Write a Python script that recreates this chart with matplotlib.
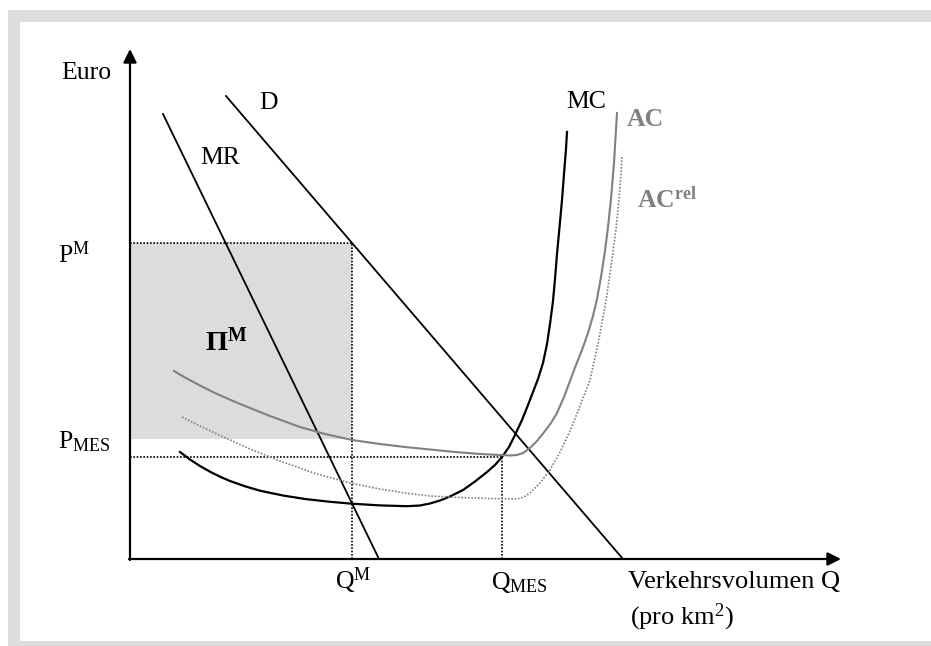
import matplotlib
matplotlib.use('Agg')
import matplotlib.pyplot as plt
from matplotlib.patches import Rectangle

plt.rcParams['font.family'] = ['Liberation Serif', 'DejaVu Serif']
plt.rcParams['mathtext.fontset'] = 'custom'
plt.rcParams['mathtext.rm'] = 'Liberation Serif'
plt.rcParams['mathtext.it'] = 'Liberation Serif:italic'
plt.rcParams['mathtext.bf'] = 'Liberation Serif:bold'

# Kurven (Q, Euro), Ursprung im Achsenschnittpunkt
mr_q = [33, 249]
mr_p = [445, 0]
d_q = [96, 493]
d_p = [463, 0]

mc_q = [50, 60, 70, 80, 90, 100, 115, 130, 153, 175, 200, 222, 250, 277,
        290, 300, 310, 320, 333, 345, 357, 365, 372, 379, 385, 392, 398,
        403, 408, 413, 417, 420, 423, 425, 427, 430, 432, 434, 436, 437]
mc_p = [107, 99.5, 93, 87.3, 82.3, 78, 72.7, 68.3, 63.5, 60, 57.2, 55.3,
        53.6, 52.8, 53.5, 55.5, 58.5, 62.5, 69, 77.5, 87, 94, 102, 112, 124,
        139, 154, 167, 180, 196, 215, 235, 258, 280, 305, 337, 359, 385, 410,
        427]

ac_q = [44, 55, 70, 85, 103, 120, 140, 170, 195, 222, 250, 275, 300, 325,
        350, 370, 380, 387, 393, 400, 407, 415, 421, 427, 434, 440, 446, 452,
        458, 463, 467, 471, 475, 478, 481, 484, 487]
ac_p = [188, 181.5, 173.5, 166, 158, 151, 143, 132, 125, 119, 115, 112,
        109.5, 107, 105, 104, 103.5, 104, 106, 111, 118, 128, 136, 146, 162,
        178, 194, 209, 226, 243, 260, 282, 308, 332, 360, 396, 446]

acrel_q = [52, 70, 90, 120, 150, 187, 220, 250, 275, 300, 330, 360, 387,
           394, 400, 410, 420, 430, 440, 450, 460, 468, 476, 482, 486, 489,
           491, 492]
acrel_p = [142, 133, 123.5, 110, 98, 85, 76, 70, 66, 63, 61.5, 60.5, 60,
           62, 66, 76, 89, 107, 128, 153, 179, 215, 258, 300, 330, 360,
           385, 402]

q_m, p_m = 222, 316
q_mes, p_mes = 372, 102
gewinn_unten = 120

fig = plt.figure(figsize=(9.31, 6.46), dpi=100)
ax = fig.add_axes([0, 0, 1, 1])
ax.set_xlim(-130, 801)
ax.set_ylim(-87, 559)
ax.axis('off')

# grauer Rahmen
grau = '#dddddd'
ax.add_patch(Rectangle((-122, -87), 12, 636, color=grau, lw=0))
ax.add_patch(Rectangle((-122, 537), 940, 12, color=grau, lw=0))
ax.add_patch(Rectangle((-122, -87), 940, 5, color=grau, lw=0))

# Gewinnfläche
ax.add_patch(Rectangle((1, gewinn_unten), q_m - 1, p_m - gewinn_unten,
                       color='#dcdcdc', lw=0))

# Achsen mit Pfeilen
ax.annotate('', xy=(0, 510), xytext=(0, -1),
            arrowprops=dict(arrowstyle='-|>', color='black', lw=1.6,
                            mutation_scale=20, shrinkA=0, shrinkB=0))
ax.annotate('', xy=(711, 0), xytext=(-1, 0),
            arrowprops=dict(arrowstyle='-|>', color='black', lw=1.6,
                            mutation_scale=20, shrinkA=0, shrinkB=0))

# Hilfslinien
dot = (0, (1, 1))
ax.plot([0, q_m], [p_m, p_m], color='black', lw=1.2, ls=dot)
ax.plot([q_m, q_m], [0, p_m], color='black', lw=1.2, ls=dot)
ax.plot([0, q_mes], [p_mes, p_mes], color='black', lw=1.2, ls=dot)
ax.plot([q_mes, q_mes], [0, p_mes], color='black', lw=1.2, ls=dot)

# Kurven
ax.plot(mr_q, mr_p, color='black', lw=1.3)
ax.plot(d_q, d_p, color='black', lw=1.3)
ax.plot(mc_q, mc_p, color='black', lw=1.6, solid_joinstyle='round')
ax.plot(ac_q, ac_p, color='#808080', lw=1.5, solid_joinstyle='round')
ax.plot(acrel_q, acrel_p, color='#808080', lw=1.2, ls=dot)

# Beschriftungen
fs = 18.5
ax.text(-44, 486, 'Euro', fontsize=fs, ha='center', va='center')
ax.text(139, 456, 'D', fontsize=fs, ha='center', va='center')
ax.text(90, 401, 'MR', fontsize=fs, ha='center', va='center')
ax.text(436, 457, 'MC', fontsize=fs, ha='left', va='center')
ax.text(497, 439, 'AC', fontsize=fs, ha='left', va='center',
        color='#808080', fontweight='bold')
ax.text(507, 359, r'AC$^{\mathbf{rel}}$', fontsize=fs, ha='left', va='center',
        color='#808080', fontweight='bold')
ax.text(75, 208, r'$\mathbf{\Pi}^{\mathbf{M}}$', fontsize=fs + 2, ha='left',
        va='baseline')
ax.text(-72, 296, r'P$^{\mathrm{M}}$', fontsize=fs, ha='left', va='baseline')
ax.text(-72, 111, r'P$_{\mathrm{MES}}$', fontsize=fs, ha='left', va='baseline')
ax.text(q_m + 1, -30, r'Q$^{\mathrm{M}}$', fontsize=fs, ha='center', va='baseline')
ax.text(q_mes + 17, -30, r'Q$_{\mathrm{MES}}$', fontsize=fs, ha='center',
        va='baseline')
ax.text(498, -29, 'Verkehrsvolumen Q', fontsize=19, ha='left', va='baseline')
ax.text(500, -65, r'(pro km$^{\mathrm{2}}$)', fontsize=19, ha='left',
        va='baseline')

fig.savefig('out.png', dpi=100)
